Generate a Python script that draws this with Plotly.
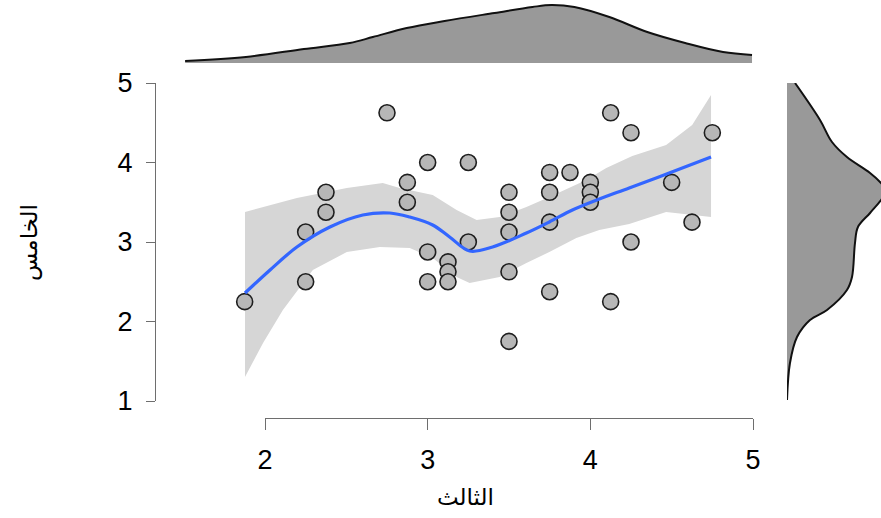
import plotly.graph_objects as go

# ---- data ----
x_vals = [1.875, 2.25, 2.25, 2.375, 2.375, 2.75, 2.875, 2.875, 3.0, 3.0, 3.0, 3.125, 3.125, 3.125,
          3.25, 3.25, 3.5, 3.5, 3.5, 3.5, 3.5, 3.75, 3.75, 3.75, 3.75, 3.875, 4.0, 4.0, 4.0,
          4.125, 4.125, 4.25, 4.25, 4.5, 4.625, 4.75]
y_vals = [2.25, 3.125, 2.5, 3.625, 3.375, 4.625, 3.75, 3.5, 4.0, 2.875, 2.5, 2.75, 2.625, 2.5,
          4.0, 3.0, 3.625, 3.375, 3.125, 2.625, 1.75, 3.875, 3.625, 3.25, 2.375, 3.875, 3.75, 3.625, 3.5,
          4.625, 2.25, 4.375, 3.0, 3.75, 3.25, 4.375]

fit_x = [1.877, 2.031, 2.196, 2.399, 2.601, 2.767, 2.890, 3.031, 3.135, 3.258, 3.399, 3.607,
         3.748, 3.890, 4.055, 4.239, 4.485, 4.742]
fit_y = [2.358, 2.648, 2.937, 3.189, 3.340, 3.365, 3.314, 3.214, 3.063, 2.887, 2.937, 3.113,
         3.252, 3.403, 3.541, 3.679, 3.868, 4.069]

up_x = [1.877, 2.196, 2.503, 2.724, 2.828, 3.031, 3.178, 3.301, 3.442, 3.607, 3.748, 3.975,
        4.098, 4.258, 4.466, 4.626, 4.742]
up_y = [3.377, 3.553, 3.679, 3.742, 3.679, 3.591, 3.403, 3.277, 3.314, 3.440, 3.566, 3.780,
        3.931, 4.082, 4.220, 4.472, 4.849]
lo_x = [1.877, 1.988, 2.110, 2.294, 2.503, 2.706, 2.890, 3.031, 3.178, 3.258, 3.442, 3.607,
        3.748, 3.914, 4.055, 4.239, 4.466, 4.742]
lo_y = [1.302, 1.730, 2.145, 2.648, 2.874, 2.937, 2.925, 2.799, 2.560, 2.484, 2.560, 2.736,
        2.874, 3.050, 3.151, 3.226, 3.377, 3.314]

top_x = [1.509, 1.883, 2.239, 2.521, 2.663, 2.871, 3.104, 3.411, 3.644, 3.761, 3.902, 4.117,
         4.350, 4.583, 4.816, 4.994]
top_d = [0.018, 0.055, 0.127, 0.182, 0.236, 0.318, 0.382, 0.455, 0.509, 0.527, 0.509, 0.418,
         0.282, 0.182, 0.100, 0.073]

right_y = [5.000, 4.535, 4.258, 4.069, 3.868, 3.742, 3.642, 3.528, 3.365, 3.189, 2.987, 2.560,
           2.396, 2.145, 2.019, 1.805, 1.478, 1.013]
right_d = [0.073, 0.300, 0.409, 0.545, 0.755, 0.855, 0.909, 0.855, 0.755, 0.645, 0.618, 0.591,
           0.545, 0.364, 0.209, 0.091, 0.027, 0.0]

x_ticks = [2, 3, 4, 5]
y_ticks = [1, 2, 3, 4, 5]
x_title = "الثالث"
y_title = "الخامس"

# ---- layout geometry ----
W, H = 881, 518
def px(v):
    return v / W
def py(v):
    return (H - v) / H

fig = go.Figure()

# confidence band
fig.add_trace(go.Scatter(
    x=up_x + lo_x[::-1], y=up_y + lo_y[::-1], fill="toself", mode="lines",
    line=dict(width=0, color="#d6d6d6"), fillcolor="#d6d6d6",
    xaxis="x", yaxis="y", hoverinfo="skip", showlegend=False))

# points
fig.add_trace(go.Scatter(
    x=x_vals, y=y_vals, mode="markers",
    marker=dict(symbol="circle", size=16, color="#b7b7b7",
                line=dict(color="#1e1e1e", width=1.6)),
    xaxis="x", yaxis="y", showlegend=False))

# smooth line
fig.add_trace(go.Scatter(
    x=fit_x, y=fit_y, mode="lines", line=dict(color="#3366ff", width=3.2, shape="spline"),
    xaxis="x", yaxis="y", hoverinfo="skip", showlegend=False))

# dummy trace for display x axis
fig.add_trace(go.Scatter(
    x=x_ticks, y=[None] * len(x_ticks), mode="markers", xaxis="x2", yaxis="y",
    hoverinfo="skip", showlegend=False))

# top marginal density
fig.add_trace(go.Scatter(
    x=top_x, y=top_d, mode="lines", fill="tozeroy", fillcolor="#999999",
    line=dict(color="#111111", width=2, shape="spline"),
    xaxis="x", yaxis="y3", hoverinfo="skip", showlegend=False))

# right marginal density
fig.add_trace(go.Scatter(
    x=right_d, y=right_y, mode="lines", fill="tozerox", fillcolor="#999999",
    line=dict(color="#111111", width=2, shape="spline"),
    xaxis="x4", yaxis="y", hoverinfo="skip", showlegend=False))

x_px_per_unit = (753 - 265) / 3.0
x_left = 265 + (1.5 - 2) * x_px_per_unit

tick_font = dict(family="Liberation Sans, Arial, sans-serif", size=27, color="black")
axis_col = "#6e6e6e"

fig.update_layout(
    width=W, height=H,
    margin=dict(l=0, r=0, t=0, b=0, pad=0),
    paper_bgcolor="white", plot_bgcolor="rgba(0,0,0,0)",
    showlegend=False,
    xaxis=dict(domain=[px(x_left), px(753)], range=[1.5, 5.0], visible=False, anchor="y",
               automargin=False),
    yaxis=dict(domain=[py(401), py(83)], range=[1, 5], anchor="free", position=px(155),
               showline=True, linecolor=axis_col, linewidth=1.3,
               ticks="outside", ticklen=9, tickwidth=1.3, tickcolor=axis_col,
               tickvals=y_ticks, ticktext=[str(v) for v in y_ticks],
               showgrid=False, zeroline=False, tickfont=tick_font, ticklabelstandoff=8,
               automargin=False),
    xaxis2=dict(domain=[px(265), px(753)], range=[2, 5], anchor="free", position=py(418),
                side="bottom", showline=True, linecolor=axis_col, linewidth=1.3,
                ticks="outside", ticklen=11, tickwidth=1.3, tickcolor=axis_col,
                tickvals=x_ticks, ticktext=[str(v) for v in x_ticks],
                showgrid=False, zeroline=False, tickfont=tick_font, ticklabelstandoff=6,
                automargin=False),
    yaxis3=dict(domain=[py(63), 1.0], range=[0, 63 / 110], visible=False, anchor="x",
                automargin=False),
    xaxis4=dict(domain=[px(787), 1.0], range=[0, 94 / 110], visible=False, anchor="y",
                automargin=False),
    annotations=[
        dict(text=x_title, x=px(465), y=py(497), xref="paper", yref="paper",
             showarrow=False, font=dict(family="DejaVu Sans", size=23, color="black"),
             xanchor="center", yanchor="middle"),
        dict(text=y_title, x=px(30), y=py(243), xref="paper", yref="paper",
             showarrow=False, textangle=-90,
             font=dict(family="DejaVu Sans", size=23, color="black"),
             xanchor="center", yanchor="middle"),
    ],
)

fig.write_html("out.html")
